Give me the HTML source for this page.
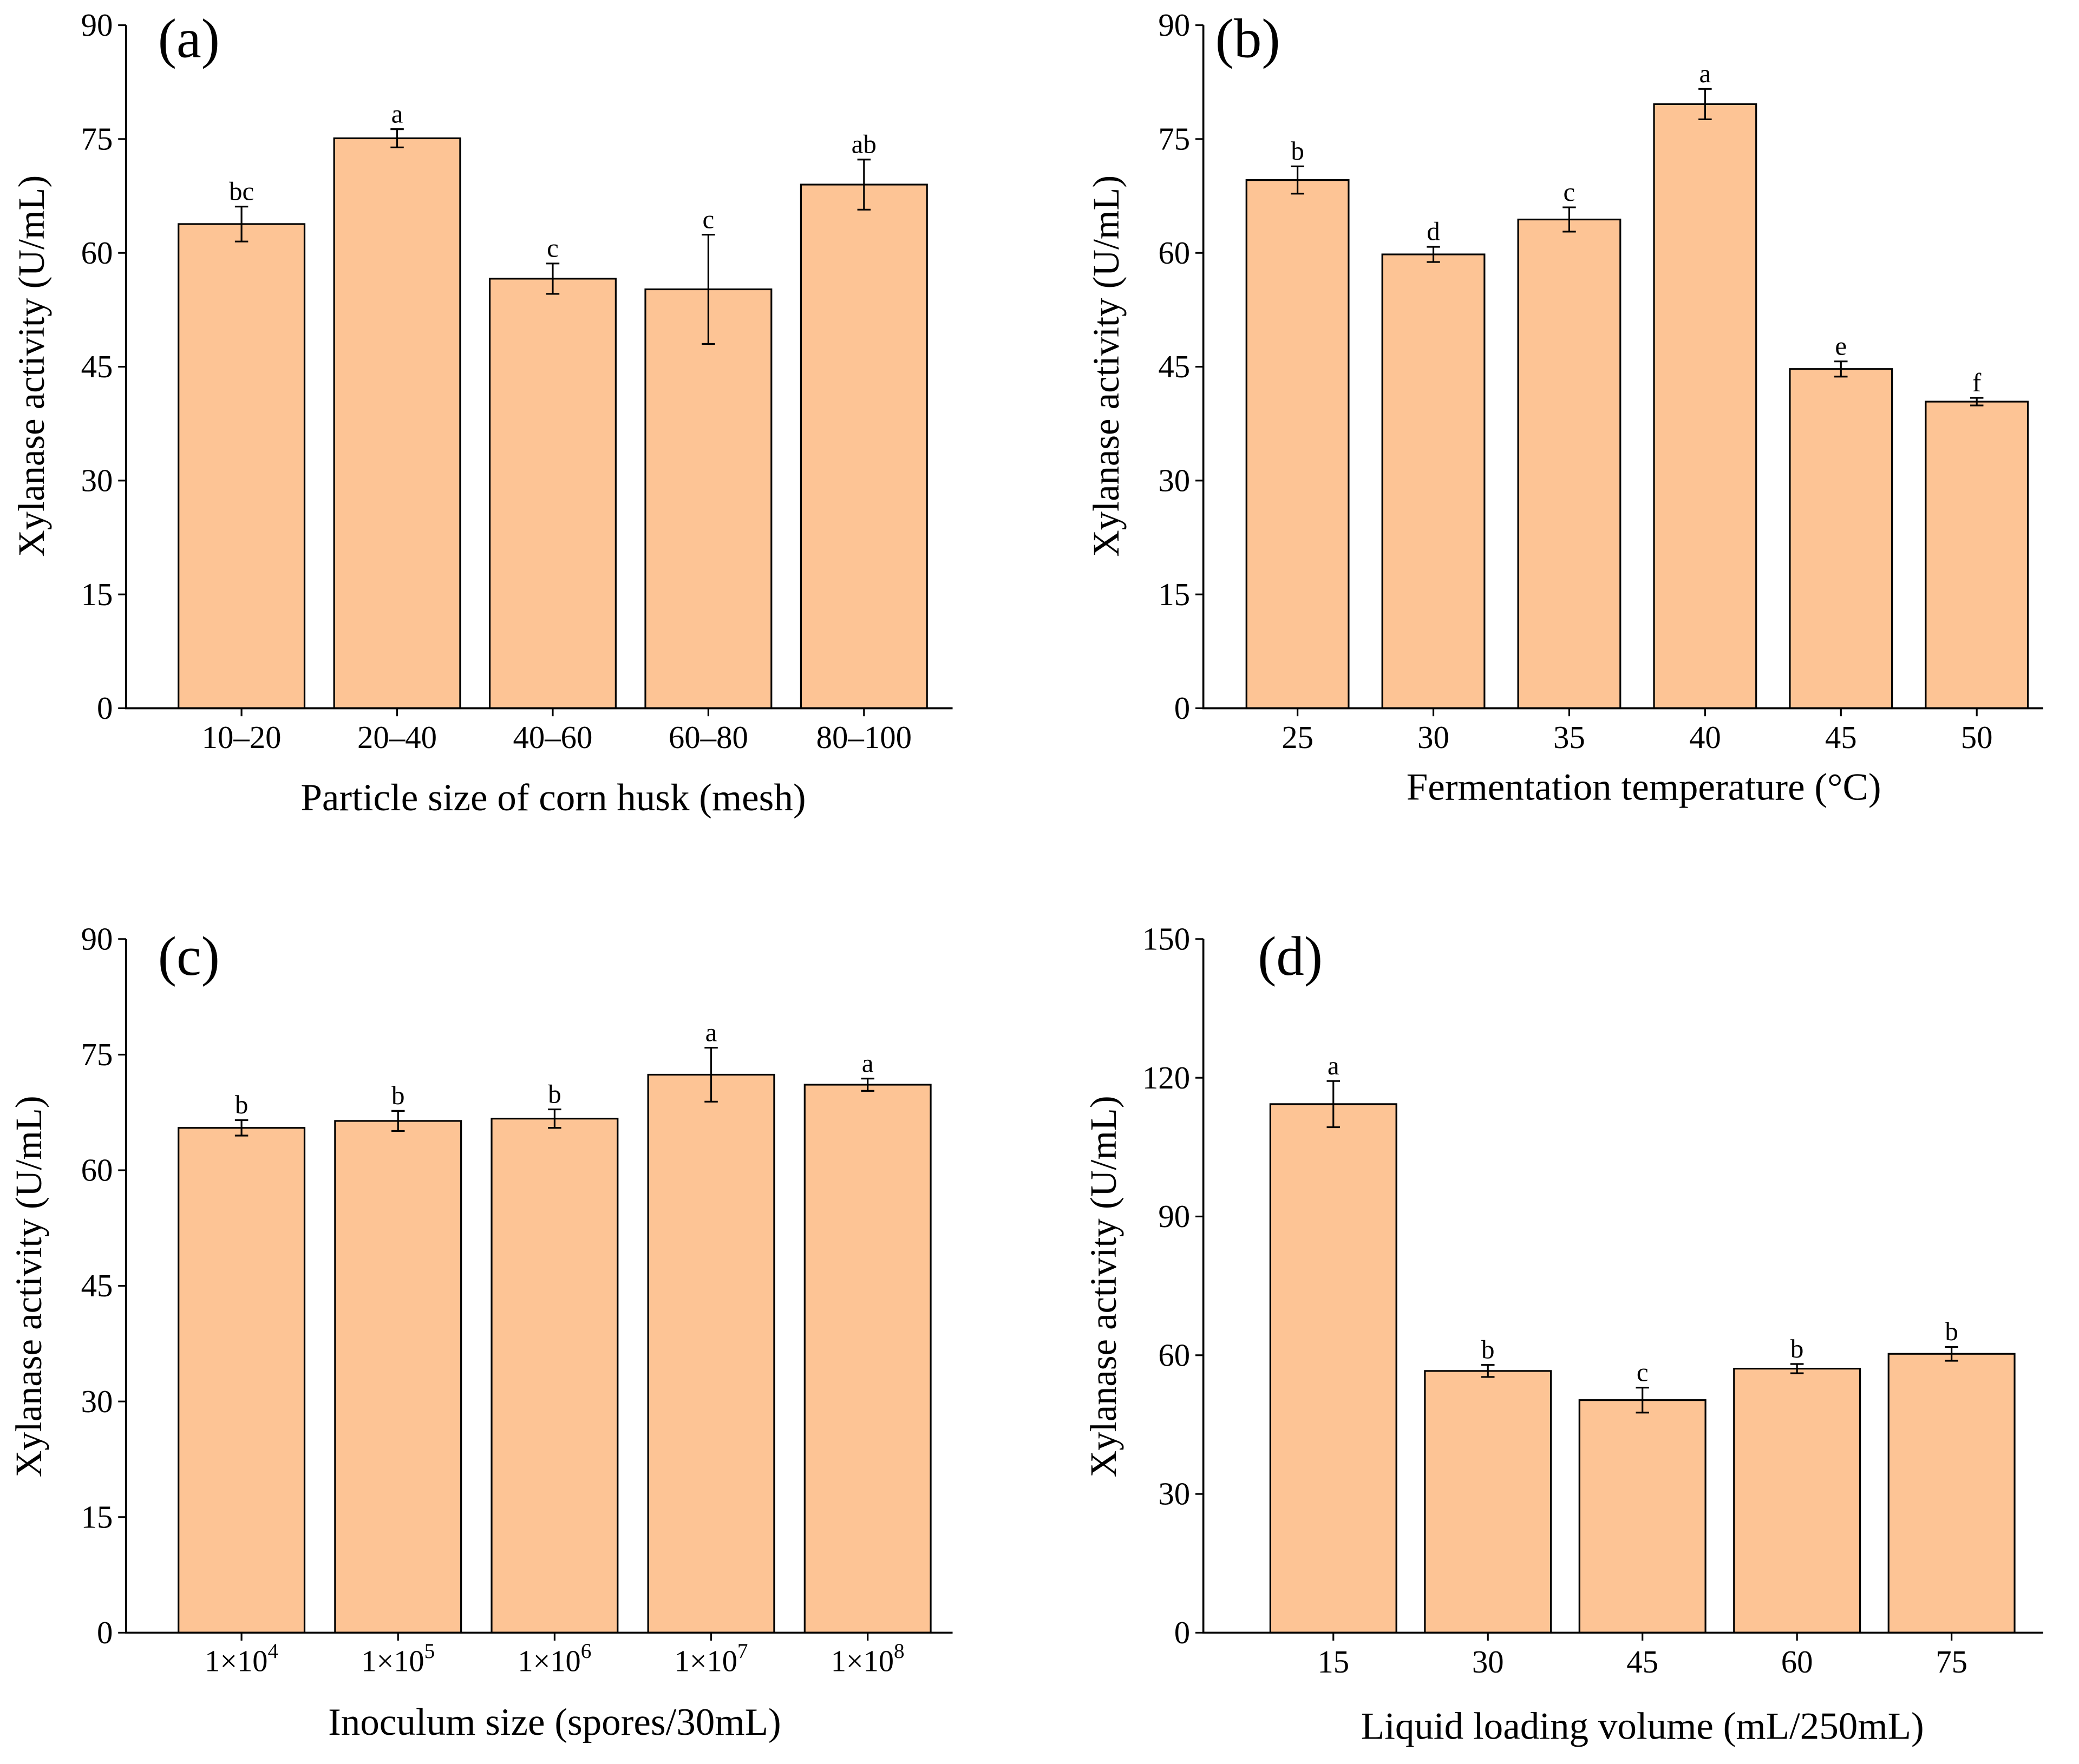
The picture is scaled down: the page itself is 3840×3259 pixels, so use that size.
<!DOCTYPE html>
<html><head><meta charset="utf-8"><style>body{margin:0;background:#fff}svg{display:block}text{font-family:"Liberation Serif",serif;fill:#000}</style></head>
<body>
<svg id="chart" width="3840" height="3259" viewBox="0 0 1567 1330" xmlns="http://www.w3.org/2000/svg"></svg>
<script>
const catsA=["10–20","20–40","40–60","60–80","80–100"];
const valsA=[63.8,75.1,56.6,55.2,69.0];
const errA=[2.3,1.2,2.0,7.2,3.3];
const letA=["bc","a","c","c","ab"];
const catsB=["25","30","35","40","45","50"];
const valsB=[69.6,59.8,64.4,79.6,44.7,40.4];
const errB=[1.8,1.0,1.6,2.0,1.0,0.5];
const letB=["b","d","c","a","e","f"];
const catsC=["4","5","6","7","8"];
const valsC=[65.5,66.4,66.7,72.4,71.1];
const errC=[1.0,1.3,1.2,3.5,0.8];
const letC=["b","b","b","a","a"];
const catsD=["15","30","45","60","75"];
const valsD=[114.3,56.6,50.3,57.1,60.3];
const errD=[5.0,1.3,2.7,1.0,1.5];
const letD=["a","b","c","b","b"];
const ticksAB=[0,15,30,45,60,75,90];
const ticksD=[0,30,60,90,120,150];

const svg=document.getElementById('chart');
const NS="http://www.w3.org/2000/svg";
function el(tag,attrs,parent,text){const e=document.createElementNS(NS,tag);for(const k in attrs)e.setAttribute(k,attrs[k]);if(text!==undefined)e.textContent=text;(parent||svg).appendChild(e);return e;}

function panel(o){
  const g=el('g',{});
  
  
  const ymax=o.ticks[o.ticks.length-1];
  const y=v=>o.y0-(v/ymax)*(o.y0-o.top);
  const x=i=>o.cx0+i*o.step;
  o.vals.forEach((v,i)=>{
    const r=el('rect',{x:x(i)-o.bw/2,y:y(v),width:o.bw,height:o.y0-y(v),fill:'#FDC495',stroke:'#000','stroke-width':1.3},g);
    
    
    const e=o.err[i],top=y(v+e),bot=y(v-e);
    const eb=el('path',{d:`M${x(i)},${top}V${bot}M${x(i)-5},${top}H${x(i)+5}M${x(i)-5},${bot}H${x(i)+5}`,stroke:'#000','stroke-width':1.3,fill:'none'},g);
    
    
    const t=el('text',{x:x(i),y:top-5,'text-anchor':'middle','font-size':20},g,o.lets[i]);
    
    
    el('line',{x1:x(i),x2:x(i),y1:o.y0,y2:o.y0+6,stroke:'#000','stroke-width':1.3},g);
    if(o.sup){
      const tl=el('text',{x:x(i),y:o.y0+29,'text-anchor':'middle','font-size':23},g);
      el('tspan',{},tl,'1×10');
      el('tspan',{dy:-10,'font-size':16},tl,o.cats[i]);
      
      
    } else {
      const tl=el('text',{x:x(i),y:o.y0+30,'text-anchor':'middle','font-size':24},g,o.cats[i]);
      
      
    }
  });
  const ax=el('path',{d:`M${o.ax},${o.top}V${o.y0}H${o.xend}`,stroke:'#000','stroke-width':1.5,fill:'none'},g);
  
  
  o.ticks.forEach(t=>{
    el('line',{x1:o.ax-6,x2:o.ax,y1:y(t),y2:y(t),stroke:'#000','stroke-width':1.3},g);
    const tl=el('text',{x:o.ax-10,y:y(t)+8,'text-anchor':'end','font-size':24},g,String(t));
    
    
  });
  const yt=el('text',{x:o.ytx,y:o.ytY,'text-anchor':'middle','font-size':28,transform:`rotate(-90 ${o.ytx} ${o.ytY})`},g,'Xylanase activity (U/mL)');
  
  
  const xt=el('text',{x:o.xtx,y:o.xty,'text-anchor':'middle','font-size':29},g,o.xtitle);
  
  
  const pl=el('text',{x:o.plx,y:o.ply,'font-size':42},g,'('+o.id+')');
  
  
}
panel({id:'a',cats:catsA,vals:valsA,err:errA,lets:letA,ticks:ticksAB,ax:95,top:19,y0:534,xend:718,cx0:182,step:117.3,bw:95,ytx:33,ytY:276,xtx:417,xty:611,xtitle:'Particle size of corn husk (mesh)',plx:119,ply:43});
panel({id:'b',cats:catsB,vals:valsB,err:errB,lets:letB,ticks:ticksAB,ax:907,top:19,y0:534,xend:1540,cx0:978,step:102.4,bw:77,ytx:843,ytY:276,xtx:1239,xty:603,xtitle:'Fermentation temperature (°C)',plx:916,ply:43});
panel({id:'c',cats:catsC,vals:valsC,err:errC,lets:letC,ticks:ticksAB,ax:95,top:708,y0:1231,xend:718,cx0:182,step:118,bw:95,ytx:31,ytY:970,xtx:418,xty:1308,xtitle:'Inoculum size (spores/30mL)',sup:true,plx:119,ply:735});
panel({id:'d',cats:catsD,vals:valsD,err:errD,lets:letD,ticks:ticksD,ax:907,top:708,y0:1231,xend:1540,cx0:1005,step:116.5,bw:95,ytx:841,ytY:970,xtx:1238,xty:1311,xtitle:'Liquid loading volume (mL/250mL)',plx:948,ply:735});
</script>
</body></html>
